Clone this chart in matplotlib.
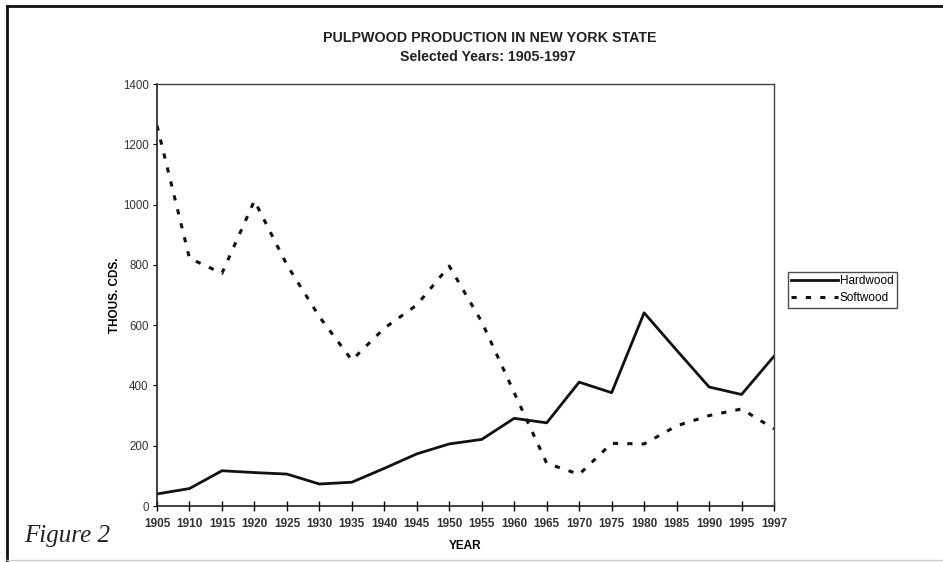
import matplotlib
matplotlib.use("Agg")
import matplotlib.pyplot as plt
from matplotlib.lines import Line2D

# Pulpwood production, thousand cords
years = ["1905", "1910", "1915", "1920", "1925", "1930", "1935", "1940", "1945", "1950",
         "1955", "1960", "1965", "1970", "1975", "1980", "1985", "1990", "1995", "1997"]
hardwood = [40, 58, 117, 111, 106, 73, 79, 125, 173, 206,
            221, 291, 276, 411, 376, 641, 517, 395, 370, 497]
softwood = [1262, 822, 772, 1013, 800, 628, 484, 590, 667, 796,
            611, 376, 142, 105, 208, 206, 266, 300, 322, 256]
y_ticks = [0, 200, 400, 600, 800, 1000, 1200, 1400]

plt.rcParams["font.family"] = ["Liberation Sans", "DejaVu Sans"]

fig = plt.figure(figsize=(9.43, 5.62), dpi=100)
ax = fig.add_axes([0.1665, 0.0996, 0.6543, 0.7509])

x = list(range(len(years)))
ax.plot(x, hardwood, color="#111111", lw=2.0, label="Hardwood")
ax.plot(x, softwood, color="#111111", lw=2.2, linestyle=(0, (1.7, 3.0)), label="Softwood")

ax.set_xlim(0, len(years) - 1)
ax.set_ylim(0, 1400)
ax.set_xticks(x)
ax.set_xticklabels(years, fontsize=8.5, fontweight="bold", color="#333333")
ax.set_yticks(y_ticks)
ax.set_yticklabels([str(v) for v in y_ticks], fontsize=8.3, color="#333333")
ax.tick_params(axis="x", direction="inout", length=7, width=1.0, pad=5)
ax.tick_params(axis="y", direction="out", length=3, width=0.8, pad=3)

for side in ("left", "bottom"):
    ax.spines[side].set_linewidth(1.2)
    ax.spines[side].set_color("#222222")
for side in ("top", "right"):
    ax.spines[side].set_linewidth(1.0)
    ax.spines[side].set_color("#444444")

ax.set_xlabel("YEAR", fontsize=8.5, fontweight="bold", labelpad=7)
ax.set_ylabel("THOUS. CDS.", fontsize=8.5, fontweight="bold", labelpad=1)

fig.text(0.519, 0.932, "PULPWOOD PRODUCTION IN NEW YORK STATE", ha="center", va="center",
         fontsize=10.3, fontweight="bold", color="#222222")
fig.text(0.517, 0.899, "Selected Years: 1905-1997", ha="center", va="center",
         fontsize=10.2, fontweight="bold", color="#222222")

leg = ax.legend(loc="upper left", bbox_to_anchor=(1.022, 0.555), fontsize=8.5, frameon=True,
                fancybox=False, edgecolor="#222222", handlelength=4.0, handletextpad=0.1,
                borderpad=0.3, labelspacing=0.4, borderaxespad=0)
leg.get_frame().set_linewidth(1.0)

fig.text(0.026, 0.046, "Figure 2", fontsize=18, style="italic", family="Liberation Serif",
         ha="left", va="center", color="#222222")

# scanned page border
fig.add_artist(Line2D([0.007, 1.0], [0.989, 0.989], transform=fig.transFigure, color="#111111", lw=2))
fig.add_artist(Line2D([0.007, 0.007], [0.0, 0.989], transform=fig.transFigure, color="#111111", lw=2))
fig.add_artist(Line2D([0.007, 1.0], [0.004, 0.004], transform=fig.transFigure, color="#cccccc", lw=1))

fig.savefig("out.png", dpi=100)
